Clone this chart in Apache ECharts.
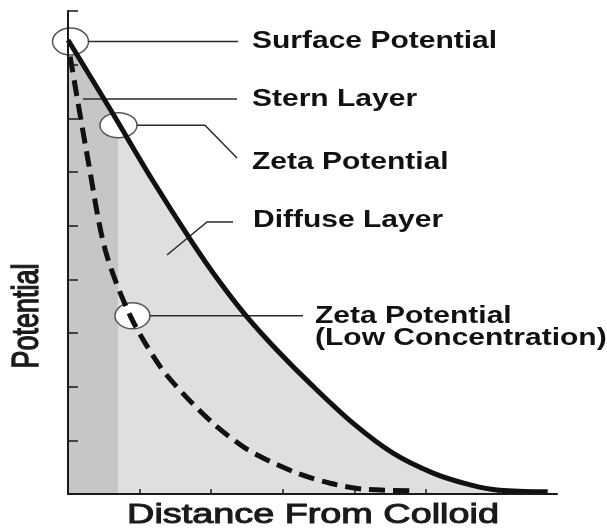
<!DOCTYPE html>
<html><head><meta charset="utf-8">
<script src="https://cdn.jsdelivr.net/npm/echarts@6/dist/echarts.min.js"></script>
<style>html,body{margin:0;padding:0;background:#fff}#c{width:607px;height:529px}</style>
</head><body><div id="c"></div>
<script>
// Distance from colloid (x) and potential (y)
const solidX = [0, 0.59, 1.17, 1.73, 2.12, 2.50, 2.92, 3.42, 3.98, 4.54, 5.10, 5.62, 6.03, 6.70];
const solidY = [8.46, 7.17, 5.87, 4.70, 3.95, 3.30, 2.68, 2.01, 1.32, 0.76, 0.39, 0.17, 0.07, 0.04];
const dashX = [0.03, 0.28, 0.52, 0.87, 1.29, 1.65, 2.05, 2.47, 2.82, 3.24, 3.66, 4.12, 4.82];
const dashY = [8.15, 6.22, 4.55, 3.32, 2.37, 1.81, 1.29, 0.86, 0.61, 0.37, 0.20, 0.09, 0.06];
const xTicks = [0, 1, 2, 3, 4, 5, 6];
const sternX = 0.70;           // edge of the Stern layer
// circled points: surface potential, zeta potential, zeta potential (low concentration)
const surfacePt = [0.035, 8.43];
const zetaPt = [0.705, 6.87];
const zetaLowPt = [0.90, 3.32];
const labelTexts = ['Surface Potential', 'Stern Layer', 'Zeta Potential', 'Diffuse Layer', 'Zeta Potential', '(Low Concentration)'];
const xName = 'Distance From Colloid';
const yName = 'Potential';

const solid = solidX.map((x, i) => [x, solidY[i]]);
const dashed = dashX.map((x, i) => [x, dashY[i]]);

const chart = echarts.init(document.getElementById('c'), null, {renderer: 'canvas'});
const dark = '#c6c6c6', light = '#dfdfdf', ink = '#111';
const f = (sternX - solidX[0]) / (solidX[solidX.length - 1] - solidX[0]);

chart.setOption({
  animation: false,
  backgroundColor: '#fff',
  grid: {left: 68, right: 50, top: 11, bottom: 35},
  xAxis: {
    type: 'value', min: 0, max: 6.83, z: 10,
    axisLine: {lineStyle: {color: '#1a1a1a', width: 2}},
    axisTick: {inside: true, length: 5, customValues: xTicks, lineStyle: {color: '#1a1a1a', width: 1.5}},
    axisLabel: {show: false}, splitLine: {show: false}
  },
  yAxis: {
    type: 'value', min: 0, max: 9, interval: 1, z: 10,
    axisLine: {show: true, lineStyle: {color: '#1a1a1a', width: 2}},
    axisTick: {show: true, inside: true, length: 10, lineStyle: {color: '#1a1a1a', width: 1.5}},
    axisLabel: {show: false}, splitLine: {show: false}
  },
  series: [
    {
      type: 'line', data: solid, smooth: 0.3, showSymbol: false, z: 1,
      lineStyle: {width: 0},
      areaStyle: {opacity: 1, color: new echarts.graphic.LinearGradient(0, 0, 1, 0, [
        {offset: 0, color: dark}, {offset: f, color: dark},
        {offset: f, color: light}, {offset: 1, color: light}])}
    },
    {
      type: 'line', data: solid, smooth: 0.3, showSymbol: false, z: 5,
      lineStyle: {width: 5, color: ink, cap: 'butt'}
    },
    {
      type: 'line', data: dashed, smooth: 0.3, showSymbol: false, z: 5,
      lineStyle: {width: 5, color: ink, type: [16, 8], cap: 'butt'}
    }
  ]
});

const px = p => chart.convertToPixel({gridIndex: 0}, p);
const s = px(surfacePt), z = px(zetaPt), zl = px(zetaLowPt);
const rim = {fill: '#fff', stroke: '#555', lineWidth: 1.5};
const lead = {stroke: '#2a2a2a', lineWidth: 1.5, fill: null};
const lblFont = 'bold 24px "Liberation Sans", Arial, sans-serif';
function lbl(text, x, y) {
  return {type: 'text', x: x, y: y, scaleX: 1.25, z: 6,
    style: {text: text, font: lblFont, fill: ink, align: 'left', verticalAlign: 'middle', textAlign: 'left', textVerticalAlign: 'middle'}};
}
chart.setOption({graphic: {elements: [
  {type: 'ellipse', z: 3, shape: {cx: s[0], cy: s[1], rx: 18, ry: 13.5}, style: rim},
  {type: 'ellipse', z: 3, shape: {cx: z[0], cy: z[1], rx: 18.5, ry: 12.5}, style: rim},
  {type: 'ellipse', z: 3, shape: {cx: zl[0], cy: zl[1], rx: 17.5, ry: 13}, style: rim},
  {type: 'polyline', z: 3, shape: {points: [[s[0] + 18, s[1]], [238, s[1]]]}, style: lead},
  {type: 'polyline', z: 3, shape: {points: [[83, 99], [237, 99]]}, style: lead},
  {type: 'polyline', z: 3, shape: {points: [[z[0] + 18.5, z[1]], [205, z[1]], [237, 158]]}, style: lead},
  {type: 'polyline', z: 3, shape: {points: [[167, 255], [207, 222], [233, 222]]}, style: lead},
  {type: 'polyline', z: 3, shape: {points: [[zl[0] + 17.5, zl[1]], [303, zl[1]]]}, style: lead},
  lbl(labelTexts[0], 252, 41.5),
  lbl(labelTexts[1], 252, 99),
  lbl(labelTexts[2], 252, 162),
  lbl(labelTexts[3], 253, 220),
  lbl(labelTexts[4], 315, 316),
  lbl(labelTexts[5], 315, 338),
  {type: 'text', x: 313, y: 516, scaleX: 1.4, z: 6,
    style: {text: xName, font: 'normal 27px "Liberation Sans", Arial, sans-serif', fill: '#1a1a1a',
      stroke: '#1a1a1a', lineWidth: 1, align: 'center', verticalAlign: 'middle', textAlign: 'center', textVerticalAlign: 'middle'}},
  {type: 'text', x: 28, y: 316, rotation: Math.PI / 2, scaleY: 1.4, z: 6,
    style: {text: yName, font: 'normal 27px "Liberation Sans", Arial, sans-serif', fill: '#1a1a1a',
      stroke: '#1a1a1a', lineWidth: 1, align: 'center', verticalAlign: 'middle', textAlign: 'center', textVerticalAlign: 'middle'}}
]}});
</script>
</body></html>
